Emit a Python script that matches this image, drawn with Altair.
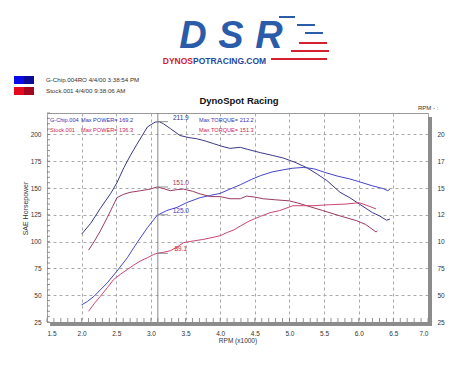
import altair as alt
import pandas as pd

# ---------------- data ----------------
rpm_gchip_tq = [2.0, 2.13, 2.27, 2.42, 2.51, 2.61, 2.7, 2.8, 2.95, 3.06, 3.12, 3.18, 3.28, 3.42, 3.55,
                3.66, 3.78, 3.9, 4.02, 4.14, 4.29, 4.4, 4.58, 4.75, 4.91, 5.08, 5.25, 5.4, 5.54, 5.73,
                5.87, 6.01, 6.2, 6.3, 6.4, 6.45]
gchip_tq = [107, 117, 131, 145, 155, 169, 180, 191, 207, 211.5, 211.9, 210, 205.5, 199, 197,
            196, 194, 191.5, 189, 187, 188, 186, 183, 180.5, 178, 174, 169, 163, 157, 146,
            141, 135, 127, 124, 120, 121]

rpm_gchip_hp = [2.0, 2.08, 2.18, 2.27, 2.37, 2.51, 2.66, 2.8, 2.95, 3.09, 3.23, 3.38, 3.52, 3.71,
                3.85, 4.0, 4.14, 4.29, 4.45, 4.58, 4.75, 4.91, 5.05, 5.2, 5.35, 5.54, 5.7, 5.87,
                6.0, 6.2, 6.35, 6.42, 6.45]
gchip_hp = [41, 44, 49, 55, 61.5, 72.5, 85, 99, 113, 124.5, 129, 132, 136.5, 141,
            143, 145, 149, 153, 158, 161.5, 165, 167, 168.5, 169.2, 168, 164, 161, 158.5,
            156, 152, 149.5, 147.5, 149]

rpm_stock_tq = [2.1, 2.18, 2.27, 2.37, 2.45, 2.51, 2.6, 2.7, 2.85, 2.99, 3.09, 3.18, 3.28, 3.38,
                3.47, 3.6, 3.71, 3.86, 4.0, 4.14, 4.29, 4.38, 4.5, 4.62, 4.8, 5.0, 5.12, 5.25,
                5.48, 5.73, 5.97, 6.1, 6.25, 6.27]
stock_tq = [92, 100, 110, 122.5, 133, 141, 144, 146, 147.5, 149, 151, 149.5, 147.5, 148.5,
            149, 147, 144.5, 142, 142, 140, 140, 142.5, 141.5, 140, 139, 138, 136, 133.5,
            129, 124, 119.5, 116, 109, 110]

rpm_stock_hp = [2.1, 2.18, 2.27, 2.37, 2.46, 2.56, 2.66, 2.75, 2.85, 2.95, 3.04, 3.09, 3.18, 3.28,
                3.38, 3.47, 3.61, 3.75, 3.9, 4.0, 4.1, 4.2, 4.29, 4.43, 4.58, 4.72, 4.86, 5.05,
                5.2, 5.34, 5.58, 5.8, 6.01, 6.15, 6.25]
stock_hp = [35, 42, 49, 57, 64.5, 69.5, 74, 78, 82, 85, 88, 89.1, 90, 91.5,
            95, 99, 100.6, 102, 104, 105.5, 108.5, 111, 114.5, 119.5, 123.5, 127, 129, 133.5,
            133.5, 133.5, 134.4, 135, 136.3, 133, 130.5]

series_names = ["G-Chip.004 Torque", "G-Chip.004 Power", "Stock.001 Torque", "Stock.001 Power"]
series_colors = ["#3a3a86", "#4646c8", "#9a3a64", "#cc4672"]

x_major = [1.5, 2.0, 2.5, 3.0, 3.5, 4.0, 4.5, 5.0, 5.5, 6.0, 6.5, 7.0]
x_minor = [round(1.5 + 0.1 * i, 1) for i in range(56)]
y_major = [25, 50, 75, 100, 125, 150, 175, 200]
y_minor = list(range(25, 221, 5))

cursor_rpm = [3.1]
cursor_values = [211.9, 151.0, 125.0, 89.1]
cursor_labels = ["211.9", "151.0", "125.0", "89.1"]
cursor_colors = ["#333377", "#993366", "#3344bb", "#cc2244"]

legend_files = ["G-Chip.004RO   4/4/00 3:38:54 PM", "Stock.001   4/4/00 9:38:06 AM"]
info_names = ["G-Chip.004", "Stock.001"]
info_power = ["Max POWER= 169.2", "Max POWER= 136.3"]
info_torque = ["Max TORQUE= 212.2", "Max TORQUE= 151.3"]
logo_letters = ["D", "S", "R"]

# ---------------- build tables ----------------
frames = []
for name, r, v in zip(series_names,
                      [rpm_gchip_tq, rpm_gchip_hp, rpm_stock_tq, rpm_stock_hp],
                      [gchip_tq, gchip_hp, stock_tq, stock_hp]):
    frames.append(pd.DataFrame({"rpm": r, "val": v, "series": name}))
df = pd.concat(frames, ignore_index=True)

W, H = 381, 209
FONT = "Liberation Sans"

xs = alt.Scale(domain=[1.5, 7.0], nice=False, zero=False)
ys = alt.Scale(domain=[25, 220], nice=False, zero=False)
cs = alt.Scale(domain=series_names, range=series_colors)

x_axis = alt.Axis(values=x_major, format=".1f", grid=True, gridDash=[3, 3], gridColor="#aaaaaa",
                  domain=False, ticks=False, labelPadding=8, labelFontSize=6.5, labelColor="#333333",
                  labelFont=FONT, title="RPM (x1000)", titleFont=FONT, titleFontSize=6.5,
                  titleFontWeight="normal", titleColor="#333333", titlePadding=1)
y_axis_left = alt.Axis(values=y_major, grid=True, gridDash=[3, 3], gridColor="#aaaaaa",
                       domain=False, ticks=False, labelPadding=6, labelFontSize=6.5,
                       labelColor="#333333", labelFont=FONT, title="SAE Horsepower",
                       titleFont=FONT, titleFontSize=7, titleFontWeight="normal",
                       titleColor="#333333", titleX=-19, titleY=95)
y_axis_right = alt.Axis(orient="right", values=y_major, labelExpr="slice(datum.label, 0, 2)",
                        grid=False, domain=False, ticks=False, labelPadding=9, labelFontSize=6.5,
                        labelColor="#333333", labelFont=FONT, title="")

X = alt.X("rpm:Q", scale=xs, axis=x_axis)

lines = alt.Chart(df).mark_line(strokeWidth=1).encode(
    x=X,
    y=alt.Y("val:Q", scale=ys, axis=y_axis_left),
    color=alt.Color("series:N", scale=cs, legend=None),
    detail="series:N",
)

right_axis_layer = alt.Chart(df).mark_line(opacity=0).encode(
    x=X,
    y=alt.Y("val:Q", scale=ys, axis=y_axis_right),
    detail="series:N",
)

# minor ticks
xminor = alt.Chart(pd.DataFrame({"rpm": x_minor})).mark_rule(color="#777777", strokeWidth=0.8).encode(
    x=X, y=alt.value(H - 4), y2=alt.value(H))
yminor = alt.Chart(pd.DataFrame({"t": y_minor})).mark_rule(color="#777777", strokeWidth=0.8).encode(
    y=alt.Y("t:Q", scale=ys, axis=None), x=alt.value(0), x2=alt.value(3))

# cursor line
cursor = alt.Chart(pd.DataFrame({"rpm": cursor_rpm})).mark_rule(color="#888888", strokeWidth=1).encode(
    x=X)

ann_df = pd.DataFrame({"rpm": cursor_rpm * 4, "val": cursor_values, "lab": cursor_labels,
                       "col": cursor_colors})
leaders = alt.Chart(ann_df).mark_rule(color="#777777", strokeWidth=0.8).encode(
    x=X, x2=alt.value(121),
    y=alt.Y("val:Q", scale=ys, axis=None))
ann_text = alt.Chart(ann_df).mark_text(font=FONT, fontSize=6.5, dx=23, dy=-4, align="center").encode(
    x=X, y=alt.Y("val:Q", scale=ys, axis=None),
    text="lab:N", color=alt.Color("col:N", scale=None))

# gray shadow bars (frame)
right_bar = alt.Chart(pd.DataFrame({"a": [0]})).mark_rule(color="#8c8c8c", strokeWidth=4).encode(
    x=alt.value(W + 2), y=alt.value(4), y2=alt.value(H + 4))
bottom_bar = alt.Chart(pd.DataFrame({"a": [0]})).mark_rule(color="#8c8c8c", strokeWidth=4).encode(
    x=alt.value(3), x2=alt.value(W + 4), y=alt.value(H + 2))


def txt(s, x, y, size=6.5, color="#333333", align="left", weight="normal", style="normal",
        baseline="middle"):
    return alt.Chart(pd.DataFrame({"s": [s]})).mark_text(
        font=FONT, fontSize=size, color=color, align=align, fontWeight=weight,
        fontStyle=style, baseline=baseline).encode(text="s:N", x=alt.value(x), y=alt.value(y))


extra = []
# info text inside the plot
extra.append(txt(info_names[0], 3, 7, size=5.6, color="#3333bb"))
extra.append(txt(info_power[0], 34, 7, size=5.6, color="#3333bb"))
extra.append(txt(info_torque[0], 152, 7, size=5.6, color="#3333bb"))
extra.append(txt(info_names[1], 3, 17, size=5.6, color="#cc2255"))
extra.append(txt(info_power[1], 34, 17, size=5.6, color="#cc2255"))
extra.append(txt(info_torque[1], 152, 17, size=5.6, color="#cc2255"))

# title and RPM marker
extra.append(txt("DynoSpot Racing", 192, -12, size=9.5, color="#111111", align="center", weight="bold"))
extra.append(txt("RPM - :", 371, -5, size=6, color="#333333"))

# file legend
def sq(x1, x2, y1, y2, color):
    return alt.Chart(pd.DataFrame({"a": [0]})).mark_rect(color=color).encode(
        x=alt.value(x1), x2=alt.value(x2), y=alt.value(y1), y2=alt.value(y2))


extra += [sq(-33, -23, -37, -29, "#0a0ae6"), sq(-23, -13, -37, -29, "#0b0b96"),
          sq(-33, -23, -26, -18, "#e6081e"), sq(-23, -13, -26, -18, "#a00820")]
extra.append(txt(legend_files[0], -1, -33, size=6.2))
extra.append(txt(legend_files[1], -1, -22, size=6.2))

# logo
for letter, lx in zip(logo_letters, [146, 184, 222]):
    extra.append(txt(letter, lx, -65, size=38, color="#2a5caa", align="center", weight="bold",
                     style="italic", baseline="alphabetic"))
extra.append(txt("DYNOS", 146, -52, size=8.5, color="#d42030", align="right", weight="bold"))
extra.append(txt("POTRACING.COM", 146, -52, size=8.5, color="#1f4a9a", align="left", weight="bold"))
deco = pd.DataFrame({"a": [0]})
for (x1, x2, yy, col) in [(224, 280, -54, "#d42030"), (244, 282, -62, "#d42030"),
                          (252, 280, -70, "#d42030"), (232, 248, -96, "#2a5caa"),
                          (250, 268, -88, "#2a5caa"), (258, 276, -80, "#2a5caa")]:
    extra.append(alt.Chart(deco).mark_rule(color=col, strokeWidth=2).encode(
        x=alt.value(x1), x2=alt.value(x2), y=alt.value(yy)))

chart = alt.layer(
    lines, right_axis_layer, xminor, yminor, cursor, leaders, ann_text, right_bar, bottom_bar, *extra
).resolve_axis(y="independent").properties(
    width=W, height=H,
    autosize=alt.AutoSizeParams(type="none"),
    padding={"left": 39, "top": 105, "right": 27, "bottom": 30},
    background="white",
).configure_view(stroke="#999999", strokeWidth=1)

chart.save("out.html", embed_options={"renderer": "svg", "actions": False})
